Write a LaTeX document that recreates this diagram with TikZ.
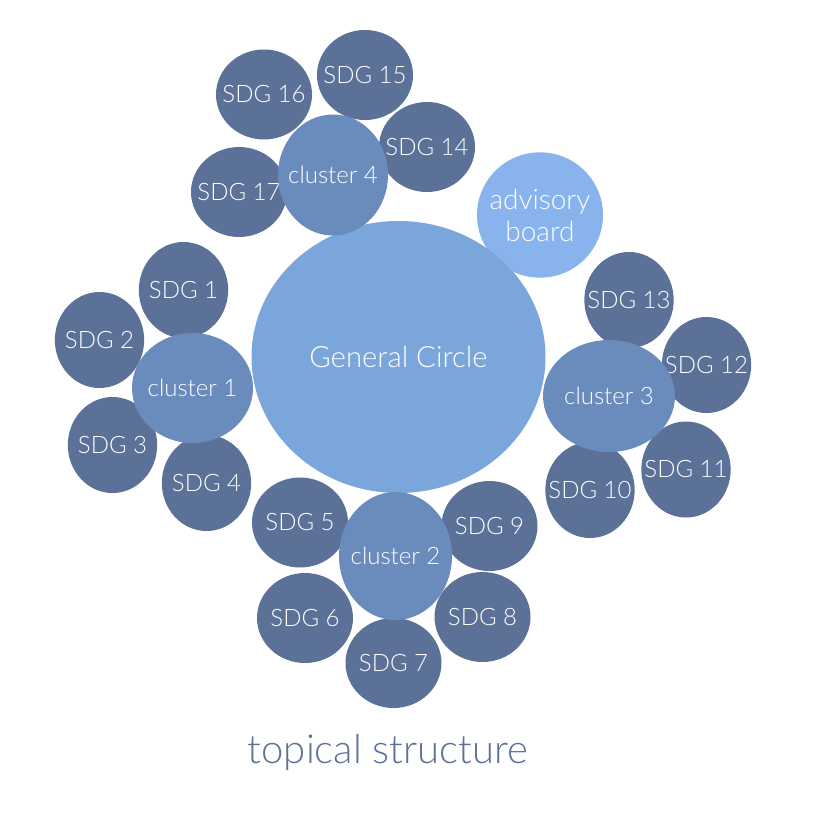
\documentclass[tikz,border=0pt]{standalone}
\usepackage{fontspec}
\setmainfont{Lato}[UprightFont={* Light}]
\usetikzlibrary{shapes.geometric}
\definecolor{sdgc}{HTML}{5B7198}
\definecolor{clusc}{HTML}{6A8CBD}
\definecolor{genc}{HTML}{7BA6DC}
\definecolor{advc}{HTML}{88B3EC}
\tikzset{
  bubble/.style={ellipse, inner sep=0pt},
  lab/.style={text=white, align=center, inner sep=0pt, font=\fontsize{18}{21}\selectfont},
  sdgw/.style={bubble, fill=sdgc, minimum width=72pt, minimum height=67.5pt, label={[lab]center:#1}},
  sdgt/.style={bubble, fill=sdgc, minimum width=67pt, minimum height=72pt, label={[lab]center:#1}},
  clus/.style={bubble, fill=clusc, label={[lab]center:#1}},
}
\begin{document}
\begin{tikzpicture}[x=0.75pt,y=-0.75pt]
\useasboundingbox (0,0) rectangle (828,818);
\node[bubble, fill=advc, minimum width=94.5pt, minimum height=94pt,
  label={[lab, font=\fontsize{21}{24}\selectfont]center:advisory\\board}] (adv) at (540,215) {};
\node[bubble, fill=genc, minimum width=220.5pt, minimum height=204pt,
  label={[lab, font=\fontsize{22}{26}\selectfont]center:General Circle}] (gen) at (398.5,357) {};
% SDGs
\node[sdgt={SDG 1}] (s1) at (183.5,290) {};
\node[sdgt={SDG 2}] (s2) at (99.5,340) {};
\node[sdgt={SDG 3}] (s3) at (112.5,445) {};
\node[sdgt={SDG 4}] (s4) at (206.5,483) {};
\node[sdgw={SDG 5}] (s5) at (300,522.5) {};
\node[sdgw={SDG 6}] (s6) at (305,618) {};
\node[sdgw={SDG 7}] (s7) at (393.5,663) {};
\node[sdgw={SDG 8}] (s8) at (482.5,617) {};
\node[sdgw={SDG 9}] (s9) at (489.5,526) {};
\node[sdgt={SDG 10}] (s10) at (590,490) {};
\node[sdgt={SDG 11}] (s11) at (686,469.5) {};
\node[sdgt={SDG 12}] (s12) at (706.5,365) {};
\node[sdgt={SDG 13}] (s13) at (629,300) {};
\node[sdgw={SDG 14}] (s14) at (427,147) {};
\node[sdgw={SDG 15}] (s15) at (365,75) {};
\node[sdgw={SDG 16}] (s16) at (264,94.5) {};
\node[sdgw={SDG 17}] (s17) at (239,192) {};
% clusters
\node[clus={cluster 1}, minimum width=90.75pt, minimum height=82.5pt] (c1) at (192.5,388) {};
\node[clus={cluster 2}, minimum width=84.75pt, minimum height=96pt] (c2) at (395.5,556) {};
\node[clus={cluster 3}, minimum width=99pt, minimum height=84pt] (c3) at (609,396) {};
\node[clus={cluster 4}, minimum width=82.5pt, minimum height=90.75pt] (c4) at (333,175) {};
% title
\node[anchor=base, text=sdgc, font=\fontsize{30}{36}\selectfont, inner sep=0pt] (title) at (388,763) {topical structure};
\end{tikzpicture}
\end{document}
